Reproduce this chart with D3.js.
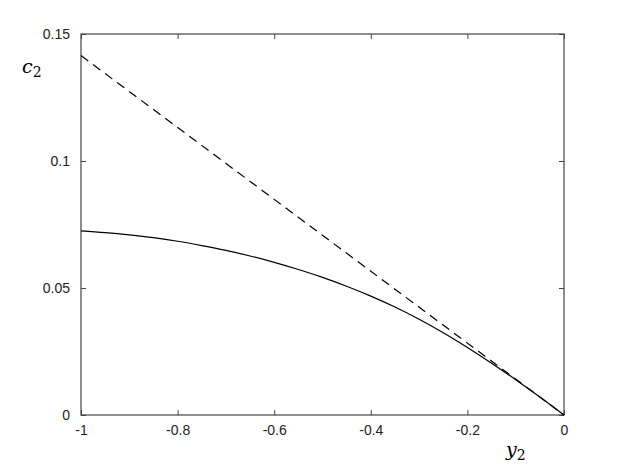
<!DOCTYPE html>
<html>
<head>
<meta charset="utf-8">
<script src="https://cdn.jsdelivr.net/npm/d3@7"></script>
<style>
body { margin: 0; background: #fff; }
svg { display: block; }
</style>
</head>
<body>
<svg width="623" height="467"></svg>
<script>
// values
const y2 = [-1, -0.95, -0.9, -0.85, -0.8, -0.75, -0.7, -0.65, -0.6, -0.55, -0.5,
            -0.45, -0.4, -0.35, -0.3, -0.25, -0.2, -0.15, -0.1, -0.05, 0];
const c2 = [0.0725, 0.0718, 0.0709, 0.0698, 0.0684, 0.0667, 0.0648, 0.0626, 0.0601, 0.0573, 0.0542,
            0.0507, 0.0468, 0.0425, 0.0377, 0.0324, 0.0266, 0.0204, 0.0139, 0.0071, 0];
const dashX = [-1, 0];
const dashY = [0.1415, 0];
const xTicks = [-1, -0.8, -0.6, -0.4, -0.2, 0];
const yTicks = [0, 0.05, 0.1, 0.15];

const svg = d3.select('svg');
const margin = { top: 34, right: 59, bottom: 52, left: 81 };
const innerWidth = 623 - margin.left - margin.right;
const innerHeight = 467 - margin.top - margin.bottom;
const g = svg.append("g").attr("transform", "translate(" + margin.left + "," + margin.top + ")");

const x = d3.scaleLinear().domain([-1, 0]).range([0, innerWidth]);
const y = d3.scaleLinear().domain([0, 0.15]).range([innerHeight, 0]);

const tickFont = "'Liberation Sans', Arial, sans-serif";
const axisColor = "#444";
const fmt = d => String(d); // plain hyphen minus, as in the reference

function style(sel) {
  sel.select(".domain").remove();
  sel.selectAll("line").attr("stroke", axisColor);
  sel.selectAll("text").attr("font-family", tickFont).attr("font-size", 14).attr("fill", "#222");
}
function noText(sel) { sel.selectAll("text").remove(); }

g.append("g").attr("transform", "translate(0," + innerHeight + ")")
  .call(d3.axisBottom(x).tickValues(xTicks).tickSizeInner(-5).tickSizeOuter(0).tickPadding(10).tickFormat(fmt))
  .call(style);
g.append("g")
  .call(d3.axisTop(x).tickValues(xTicks).tickSizeInner(-5).tickSizeOuter(0))
  .call(style).call(noText);
g.append("g")
  .call(d3.axisLeft(y).tickValues(yTicks).tickSizeInner(-5).tickSizeOuter(0).tickPadding(11).tickFormat(fmt))
  .call(style);
g.append("g").attr("transform", "translate(" + innerWidth + ",0)")
  .call(d3.axisRight(y).tickValues(yTicks).tickSizeInner(-5).tickSizeOuter(0))
  .call(style).call(noText);

g.append("rect").attr("width", innerWidth).attr("height", innerHeight)
  .attr("fill", "none").attr("stroke", axisColor).attr("stroke-width", 1.2);

const line = d3.line().x(d => x(d[0])).y(d => y(d[1])).curve(d3.curveMonotoneX);

g.append("path").datum(d3.zip(y2, c2)).attr("d", line)
  .attr("fill", "none").attr("stroke", "#000").attr("stroke-width", 1.2);
g.append("path").datum(d3.zip(dashX, dashY)).attr("d", line)
  .attr("fill", "none").attr("stroke", "#000").attr("stroke-width", 1.2)
  .attr("stroke-dasharray", "9,6");

// axis labels
const mathFont = "'DejaVu Serif', 'Liberation Serif', serif";
const cl = svg.append("text").attr("x", 22).attr("y", 73)
  .attr("font-family", mathFont).attr("font-style", "italic").attr("font-size", 19);
cl.append("tspan").text("c");
cl.append("tspan").attr("font-style", "normal").attr("font-size", 14).attr("dy", 4).text("2");

const yl = svg.append("text").attr("x", 506).attr("y", 456)
  .attr("font-family", mathFont).attr("font-style", "italic").attr("font-size", 19);
yl.append("tspan").text("y");
yl.append("tspan").attr("font-style", "normal").attr("font-size", 14).attr("dy", 4).text("2");
</script>
</body>
</html>
